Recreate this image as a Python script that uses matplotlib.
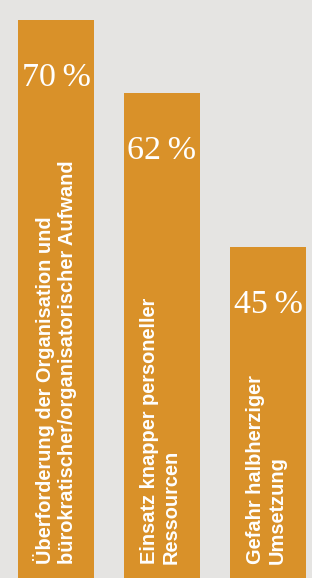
import matplotlib
matplotlib.use('Agg')
import matplotlib.pyplot as plt

# Daten
kategorien = [
    "Überforderung der Organisation und\nbürokratischer/organisatorischer Aufwand",
    "Einsatz knapper personeller\nRessourcen",
    "Gefahr halbherziger\nUmsetzung",
]
werte = [70, 62, 45]

# Farben
hintergrund = "#e5e4e2"
balken_farbe = "#d99129"

fig = plt.figure(figsize=(3.12, 5.78), dpi=100)
fig.patch.set_facecolor(hintergrund)
ax = fig.add_axes([0, 0, 1, 1])
ax.set_facecolor(hintergrund)

x = range(len(werte))
ax.bar(x, werte, width=0.717, color=balken_farbe, linewidth=0)

# Achsenbereich (Balken in der Vorlage nicht ganz maßstäblich)
ax.set_xlim(-0.528, 2.415)
ax.set_ylim(8.5, 72.2)
ax.axis("off")

for xi, wert, kat in zip(x, werte, kategorien):
    # Prozentwert oben im Balken
    ax.annotate(f"{wert}\u2009%", xy=(xi, wert), xytext=(0, -41.8),
                textcoords="offset points", ha="center", va="center",
                fontsize=24.5, color="white", family="Liberation Serif")
    # Beschriftung senkrecht unten im Balken
    ax.annotate(kat, xy=(xi, 0), xycoords=("data", "axes fraction"),
                xytext=(-1, 10), textcoords="offset points",
                rotation=90, ha="center", va="bottom", multialignment="left",
                fontsize=14.4, fontweight="bold", color="white",
                family="Liberation Sans", linespacing=1.2)

fig.savefig("out.png", dpi=100, facecolor=hintergrund)
